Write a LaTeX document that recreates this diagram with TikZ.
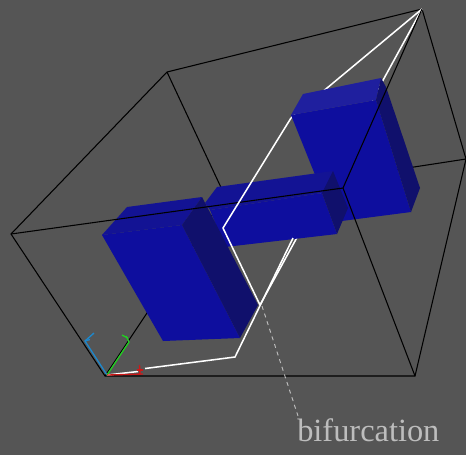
\documentclass[tikz,border=0pt]{standalone}
\usepackage{xcolor}
\usepackage{fontspec}
\setmainfont{Liberation Serif}
\usetikzlibrary{calc, positioning, arrows.meta}
\definecolor{backgrey}{HTML}{555555}
\definecolor{frontblue}{HTML}{0E0E9E}
\definecolor{topblue}{HTML}{1F1F9E}
\definecolor{midblue}{HTML}{131394}
\definecolor{darkblue}{HTML}{10106C}
\definecolor{labelgrey}{HTML}{BDBDBD}
\definecolor{axisblue}{HTML}{1E88CC}
\definecolor{axisgreen}{HTML}{22CC22}
\definecolor{axisred}{HTML}{CC1818}

\begin{document}
\begin{tikzpicture}[x=0.75pt, y=-0.75pt]
    \tikzset{
        edge line/.style={black, line width=0.8pt},
        vessel line/.style={white, line width=1.15pt, line join=miter},
        axis line/.style={line width=1pt},
        leader line/.style={labelgrey, line width=0.7pt, dash pattern=on 3pt off 3pt}
    }

    \fill[backgrey] (0, 0) rectangle (466, 455);
    \useasboundingbox (0, 0) rectangle (466, 455);

    \coordinate (A) at (422, 9);
    \coordinate (B) at (167, 72);
    \coordinate (C) at (11, 234);
    \coordinate (D) at (105, 376);
    \coordinate (E) at (415, 376);
    \coordinate (F) at (466, 159);
    \coordinate (G) at (343, 188);
    \coordinate (H) at (225, 196);

    \coordinate (K) at (291, 118);
    \coordinate (M) at (223, 228);
    \coordinate (S) at (260, 305);
    \coordinate (P) at (235, 357);
    \coordinate (T) at (145, 368.5);
    \coordinate (U) at (138, 371.5);
    \coordinate (V) at (107, 375);

    \draw[edge line] (A) -- (B) -- (C) -- (D) -- (E) -- (F) -- (A);
    \draw[edge line] (B) -- (H) -- (D);
    \draw[edge line] (H) -- (F);

    \draw[vessel line] (A) -- (K);
    \draw[vessel line] (A) -- (S);

    \fill[frontblue] (291, 115) -- (376, 100) -- (411, 212) -- (334, 222) -- cycle;
    \fill[topblue] (303, 94) -- (381, 78) -- (376, 100) -- (291, 115) -- cycle;
    \fill[darkblue] (381, 78) -- (386, 87) -- (420, 188) -- (411, 212) -- (376, 100) -- cycle;

    \fill[frontblue] (210, 210) -- (322, 193) -- (337, 234) -- (225, 247) -- cycle;
    \fill[midblue] (217, 187) -- (333, 171) -- (322, 193) -- (210, 210) -- (205, 203) -- cycle;
    \fill[darkblue] (333, 171) -- (348, 208) -- (337, 234) -- (322, 193) -- cycle;

    \fill[frontblue] (102, 235) -- (182, 225) -- (240, 338) -- (163, 341) -- cycle;
    \fill[midblue] (127, 207) -- (202, 197) -- (182, 225) -- (102, 235) -- cycle;
    \fill[darkblue] (202, 197) -- (258, 305) -- (240, 338) -- (182, 225) -- cycle;

    \draw[edge line] (C) -- (G);
    \draw[edge line] (A) -- (G);
    \draw[edge line] (G) -- (E);

    \draw[vessel line] (K) -- (M) -- (S);
    \draw[vessel line] (293, 238) -- (P) -- (T);
    \draw[vessel line] (U) -- (V);

    \node[labelgrey, anchor=base west, inner sep=0pt, font=\fontsize{24.3}{28}\selectfont] (bifurcation) at (297, 441) {bifurcation};
    \coordinate (Sleader) at (262, 306);
    \draw[leader line] (Sleader) -- (298, 416);

    \draw[axisblue, axis line] (V) -- (85, 341) -- (94, 333);
    \draw[axisblue, axis line] (85, 341) -- (90, 339.5);
    \draw[axisgreen, axis line] (V) -- (129, 342) -- (126, 336);
    \draw[axisgreen, axis line] (122, 335) -- (128, 338);
    \draw[axisred, axis line] (V) -- (143, 374);
    \draw[axisred, axis line] (139.5, 365) -- (140, 374);
    \draw[axisred, axis line] (137, 370) -- (143, 370);
\end{tikzpicture}
\end{document}
